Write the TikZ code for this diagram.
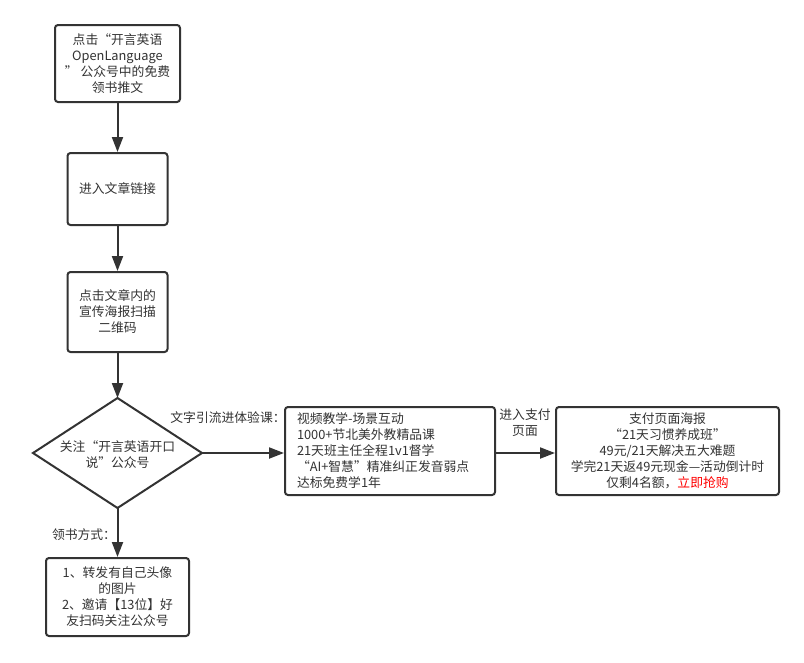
\documentclass[tikz,border=0pt]{standalone}
\usepackage{fontspec}
\setmainfont{Noto Sans CJK SC}
\usetikzlibrary{arrows.meta,shapes.geometric}
\definecolor{ink}{HTML}{333333}
\definecolor{lnk}{HTML}{FF0000}
\tikzset{
  box/.style={draw=ink,line width=2pt,rounded corners=3pt,fill=white,text=ink,align=center,inner sep=2pt,font=\fontsize{12.8}{16}\selectfont},
  lbl/.style={text=ink,align=center,font=\fontsize{12.8}{16}\selectfont,inner sep=1pt},
  conn/.style={draw=ink,line width=2pt,-{Triangle[length=15pt,width=11pt]}}
}
\begin{document}
\begin{tikzpicture}[x=1pt,y=-1pt]
\useasboundingbox (0,0) rectangle (804,662);
\node[box,minimum width=125pt,minimum height=77pt] (b1) at (117.5,63.5) {点击“开言英语\\OpenLanguage\\” 公众号中的免费\\领书推文};
\node[box,minimum width=100pt,minimum height=72pt] (b2) at (117.5,189) {进入文章链接};
\node[box,minimum width=100pt,minimum height=80pt] (b3) at (117.5,312) {点击文章内的\\宣传海报扫描\\二维码};
\path[draw=ink,line width=2pt,fill=white] (33,453) coordinate (dl) -- (117.5,398) coordinate (dt) -- (202,453) coordinate (dr) -- (117.5,508) coordinate (db) -- cycle;
\node[lbl] (dtext) at (117.5,455) {关注“开言英语开口\\说”公众号};
\node[box,minimum width=210pt,minimum height=88pt,align=left,text width=186pt] (b5) at (390,451) {视频教学-场景互动\\1000+节北美外教精品课\\21天班主任全程1v1督学\\“AI+智慧”精准纠正发音弱点\\达标免费学1年};
\node[box,minimum width=223pt,minimum height=88pt] (b6) at (667.5,451) {支付页面海报\\“21天习惯养成班”\\49元/21天解决五大难题\\学完21天返49元现金—活动倒计时\\仅剩4名额，\textcolor{lnk}{立即抢购}};
\node[box,minimum width=143pt,minimum height=78pt] (b4) at (117.5,597) {1、转发有自己头像\\的图片\\2、邀请【13位】好\\友扫码关注公众号};
\draw[conn] (b1.south) -- (b2.north);
\draw[conn] (b2.south) -- (b3.north);
\draw[conn] (b3.south) -- (dt);
\draw[conn] (dr) -- (dr -| b5.west);
\draw[conn] (dr -| b5.east) -- (dr -| b6.west);
\draw[conn] (db) -- (b4.north);
\node[lbl] (l1) at (228,418) {文字引流进体验课：};
\node[lbl] (l2) at (525,423) {进入支付\\页面};
\node[lbl,fill=white] (l3) at (84,535) {领书方式：};
\end{tikzpicture}
\end{document}
